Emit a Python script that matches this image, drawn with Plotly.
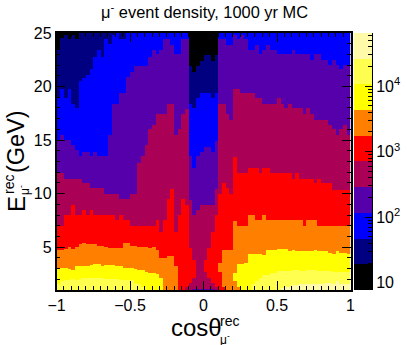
import numpy as np
import plotly.graph_objects as go

# upper edge in GeV of each density band, one value per cos(theta) bin (80 bins from -1 to 1)
# 0 means the band is missing in that bin, 26 means it runs past the top of the plot
navy_top = [23.4, 24.5, 24.8, 24.4, 24.8, 24.4, 26, 26, 26, 26, 26, 26, 26, 26, 26, 26, 26, 26, 26, 26,
            26, 26, 26, 26, 26, 26, 26, 26, 26, 26, 26, 26, 26, 26, 26, 26, 21.9, 21.4, 21.9, 22.4,
            22.9, 22.9, 22.4, 22.9, 26, 26, 26, 26, 26, 26, 26, 26, 26, 26, 26, 26, 26, 26, 26, 26,
            26, 26, 26, 26, 26, 26, 26, 26, 26, 26, 26, 26, 26, 26, 26, 26, 26, 26, 26, 26]
blue_top = [18.9, 19.85, 18.9, 19.85, 18.45, 18.0, 20.5, 20.8, 21.1, 21.6, 22.8, 23.4, 22.8, 24.4, 24.05, 24.8, 26, 24.4, 24.4, 26,
            26, 26, 26, 26, 26, 26, 26, 26, 26, 26, 26, 26, 26, 26, 26, 26, 18.45, 18.0, 18.9, 19.4,
            19.4, 19.4, 18.9, 19.4, 26, 26, 26, 26, 26, 26, 26, 26, 26, 26, 26, 26, 26, 26, 26, 26,
            26, 26, 26, 26, 26, 26, 26, 26, 26, 26, 26, 26, 26, 26, 26, 26, 26, 26, 26, 26]
purple_top = [15, 15.5, 15, 15, 14.55, 14.1, 13.5, 13.9, 13.9, 13.5, 13.9, 13.5, 13.5, 13.5, 15.5, 18.4, 18.4, 19.4, 19.4, 20.9,
              21.4, 21.9, 21.9, 21.9, 21.9, 22.8, 23.4, 23, 23.4, 24.4, 24.4, 23.9, 23, 23, 24.4, 24.4, 13.46, 12.43, 13.46, 13.9,
              14.4, 14.4, 13.9, 14.9, 24.4, 24.4, 23.9, 23.9, 24.8, 24.4, 24.8, 24.4, 23.4, 23.4, 23.9, 23, 23.4, 23.9, 23.4, 23.4,
              23, 23, 23, 23, 23.4, 23, 23, 23, 23, 22.5, 23, 23, 22.5, 22.5, 22, 22.5, 22, 21.6, 22, 22]
crimson_top = [11.9, 11.9, 11.4, 11.4, 11.4, 11.4, 11.4, 11, 11, 10.5, 10.5, 10.5, 10.5, 10, 10, 10, 10, 9.5, 9.5, 9.5,
               10, 10, 12.9, 13.5, 14.55, 16, 16.4, 17.4, 17.4, 17.4, 18.4, 18.4, 15.5, 16, 17.4, 17.9, 9.4, 8, 8.5, 8.9,
               8.9, 8.9, 8.9, 10.4, 18.4, 18.4, 17.4, 16.9, 19.85, 19.85, 19.4, 19.4, 19.4, 19.4, 18.9, 18.9, 18.45, 18.45, 18.45, 18.45,
               18.9, 18.45, 18, 18.45, 18, 18, 18, 17.4, 18, 17.4, 16.9, 16.9, 16.9, 16.9, 16.4, 16, 15.5, 16, 16.4, 15.5]
red_top = [7, 7, 8, 8, 8.9, 8, 8, 8.5, 8, 8.5, 8, 8, 8, 8, 8, 8, 7.5, 8, 7.5, 7.5,
           7, 7, 7, 7, 7, 7, 7, 7.5, 6.45, 7.5, 9.5, 10.4, 6.45, 8, 9.5, 8.9, 4.9, 3.8, 0, 0,
           3.8, 4.9, 6.45, 8, 10, 11, 10.5, 10, 13.45, 11.9, 11.9, 11.9, 12.4, 12.4, 12.4, 11.9, 12.4, 12.4, 11.9, 11.9,
           11.9, 11.9, 11.9, 11.9, 11.4, 11.9, 11.4, 11.4, 11.4, 11.4, 11, 11.4, 11, 11, 11, 10.35, 10.35, 10.35, 10.35, 10.35]
orange_top = [4.67, 4.67, 4.8, 5.05, 4.8, 5.05, 5.27, 5.36, 5.27, 5.27, 5.27, 5.1, 5.1, 5, 4.9, 4.9, 4.9, 4.9, 5.36, 5.36,
              5.1, 5.1, 5.05, 5.05, 5, 4.9, 5, 4.67, 4, 4, 4.18, 4.18, 3.24, 0, 0, 0, 0, 0, 0, 0,
              0, 0, 0, 0, 3.5, 4.67, 4.67, 4.67, 7.4, 7, 7, 7, 8, 8, 7.5, 7.5, 8, 7.5, 7.5, 7.5,
              7.5, 7.5, 7.5, 7.5, 7.5, 7.5, 7.5, 7, 7.5, 7.5, 7.5, 7, 7, 7, 7, 7, 7, 7, 7, 7]
yellow_top = [3.03, 3.12, 3.12, 3.03, 2.93, 3.2, 3.24, 3.24, 3.24, 3.3, 3.4, 3.4, 3.24, 3.27, 3.3, 3.3, 3.24, 3.24, 3.12, 3.12,
              3.12, 3.03, 2.93, 2.93, 2.7, 2.6, 2.6, 2.5, 2.1, 0, 0, 0, 0, 0, 0, 0, 0, 0, 0, 0,
              0, 0, 0, 0, 0, 0, 0, 0, 2.62, 3.43, 3.43, 3.5, 4.43, 4.43, 4.43, 4.43, 4.33, 4.67, 4.67, 4.74,
              4.8, 4.8, 4.8, 4.64, 4.74, 4.64, 4.64, 4.58, 4.58, 4.58, 4.67, 4.58, 4.58, 4.58, 4.52, 4.43, 4.58, 4.5, 4.5, 4.43]
lemon_top = [1.56, 1.78, 1.93, 1.93, 2, 1.93, 2, 2.09, 2.09, 2.09, 2.09, 2.09, 2.09, 2.03, 2.03, 2, 2, 1.93, 1.93, 1.87,
             1.87, 1.68, 1.56, 1.3, 0, 0, 0, 0, 0, 0, 0, 0, 0, 0, 0, 0, 0, 0, 0, 0,
             0, 0, 0, 0, 0, 0, 0, 0, 0, 0, 0, 0, 0, 1.63, 1.78, 2.09, 2.4, 2.4, 2.56, 2.56,
             2.78, 2.78, 2.78, 2.78, 2.93, 2.87, 2.8, 2.8, 2.87, 2.87, 2.87, 2.78, 2.78, 2.78, 2.78, 2.7, 2.7, 2.7, 2.7, 2.7]
pale_top = [0, 0, 0, 0, 0, 0, 0, 0, 0, 0, 0, 0, 0, 0, 0, 0, 0, 0, 0, 0,
            0, 0, 0, 0, 0, 0, 0, 0, 0, 0, 0, 0, 0, 0, 0, 0, 0, 0, 0, 0,
            0, 0, 0, 0, 0, 0, 0, 0, 0, 0, 0, 0, 0, 0, 0, 0, 0, 0, 0, 0,
            0, 1.2, 1.3, 1.3, 1.47, 1.47, 1.56, 1.56, 1.56, 1.56, 1.56, 1.63, 1.63, 1.68, 1.68, 1.56, 1.78, 1.63, 1.63, 1.63]
band_tops = [navy_top, blue_top, purple_top, crimson_top, red_top, orange_top, yellow_top, lemon_top, pale_top]

# low energy dip around cos = 0: {bin: top of the dip in GeV}
purple_dip = {37: 1.15, 38: 1.15, 39: 1.15, 40: 1.15, 41: 1.15, 42: 1.15}
crimson_dip = {35: 1.3, 36: 1.68, 37: 2.1, 38: 2.7, 39: 2.7, 40: 2.7, 41: 2.1, 42: 1.68, 43: 1.3}
red_dip = {44: 2.7, 45: 1.3}
orange_dip = {48: 1.78, 49: 1.3}

# colour bar
band_edges = [7.76, 19.1, 47.2, 116, 287, 708, 1746, 4305, 10617, 26182, 64570]
band_colors = ["#000000", "#000080", "#0000ff", "#5500aa", "#aa0055",
               "#ff0000", "#ff8000", "#ffff00", "#ffff50", "#fffaaa"]
bar_ticks = [10, 100, 1000, 10000]
bar_labels = ["10", "10<sup>2</sup>", "10<sup>3</sup>", "10<sup>4</sup>"]
bar_minor = [8, 9, 20, 30, 40, 50, 60, 70, 80, 90, 200, 300, 400, 500, 600, 700, 800, 900,
             2000, 3000, 4000, 5000, 6000, 7000, 8000, 9000, 20000, 30000, 40000, 50000, 60000]

W, H = 407, 345
FONT = "Liberation Sans"


def fx(px):
    return px / W


def fy(py):
    return 1 - py / H


cos_edges = np.linspace(-1, 1, 81)
e_edges = np.linspace(1, 25, 241)
e_mid = (e_edges[:-1] + e_edges[1:]) / 2

z = np.zeros((len(e_mid), 80), dtype=int)
for col in range(80):
    for row, e in enumerate(e_mid):
        band = 0
        for i, tops in enumerate(band_tops):
            if e < tops[col]:
                band = i + 1
        for dip, cap in ((purple_dip, 3), (crimson_dip, 4), (red_dip, 5), (orange_dip, 6)):
            if e < dip.get(col, 0):
                band = min(band, cap)
        z[row, col] = band

scale = []
for i, c in enumerate(band_colors):
    scale.append([i / 10, c])
    scale.append([(i + 1) / 10, c])

fig = go.Figure()
fig.add_trace(go.Heatmap(x=cos_edges, y=e_edges, z=z, zmin=-0.5, zmax=9.5, colorscale=scale,
                         showscale=False, hoverinfo="skip"))
fig.add_trace(go.Heatmap(x=[0, 1], y=band_edges, z=[[i] for i in range(10)], zmin=-0.5, zmax=9.5,
                         colorscale=scale, showscale=False, hoverinfo="skip", xaxis="x2", yaxis="y2"))


def text(s, x, y, size, angle=0):
    # x, y in window pixels
    fig.add_annotation(text=s, x=fx(x), y=fy(y), xref="paper", yref="paper", showarrow=False,
                       font=dict(family=FONT, size=size, color="black"), textangle=angle,
                       xanchor="center", yanchor="middle")


text("μ<sup>-</sup> event density, 1000 yr MC", 204, 11, 16.4)
text("cosθ", 196, 327, 24)
text("rec", 229, 321, 14)
text("μ<sup>-</sup>", 225, 339, 12)
text("E", 16, 204, 24, -90)
text("rec", 9, 185, 14, -90)
text("μ<sup>-</sup>", 24, 190, 12, -90)
text("(GeV)", 16, 142, 23.5, -90)

axis = dict(automargin=False, showgrid=False, zeroline=False, showline=True, linecolor="black", linewidth=1.5,
            mirror="allticks", ticks="inside", tickcolor="black", tickwidth=1, ticklen=9,
            tickfont=dict(family=FONT, size=16, color="black"))
fig.update_layout(
    width=W, height=H, margin=dict(l=0, r=0, t=0, b=0), paper_bgcolor="white", plot_bgcolor="white",
    xaxis=dict(axis, domain=[fx(56.5), fx(350.5)], range=[-1, 1], tickvals=[-1, -0.5, 0, 0.5, 1],
               ticktext=["−1", "−0.5", "0", "0.5", "1"],
               minor=dict(ticks="inside", ticklen=4, tickcolor="black", tickwidth=1, dtick=0.05)),
    yaxis=dict(axis, domain=[fy(290), fy(33)], range=[1, 25], tickvals=[5, 10, 15, 20, 25],
               minor=dict(ticks="inside", ticklen=4, tickcolor="black", tickwidth=1, dtick=1)),
    xaxis2=dict(automargin=False, domain=[fx(354), fx(372)], range=[0, 1], anchor="y2", showgrid=False, zeroline=False,
                showticklabels=False, ticks=""),
    yaxis2=dict(automargin=False, domain=[fy(290), fy(33)], type="log",
                range=[np.log10(band_edges[0]), np.log10(band_edges[-1])],
                anchor="x2", side="right", showgrid=False, zeroline=False, showline=True, linecolor="black",
                linewidth=1, ticks="inside", tickcolor="black", tickwidth=1, ticklen=7,
                tickvals=bar_ticks, ticktext=bar_labels, tickfont=dict(family=FONT, size=16, color="black"),
                minor=dict(ticks="inside", ticklen=4, tickcolor="black", tickwidth=1, tickvals=bar_minor)),
)
# the default page body has an 8px margin, drop it so the figure fills the window
fig.write_html("out.html", config={"displayModeBar": False}, post_script="document.body.style.margin = '0';")
